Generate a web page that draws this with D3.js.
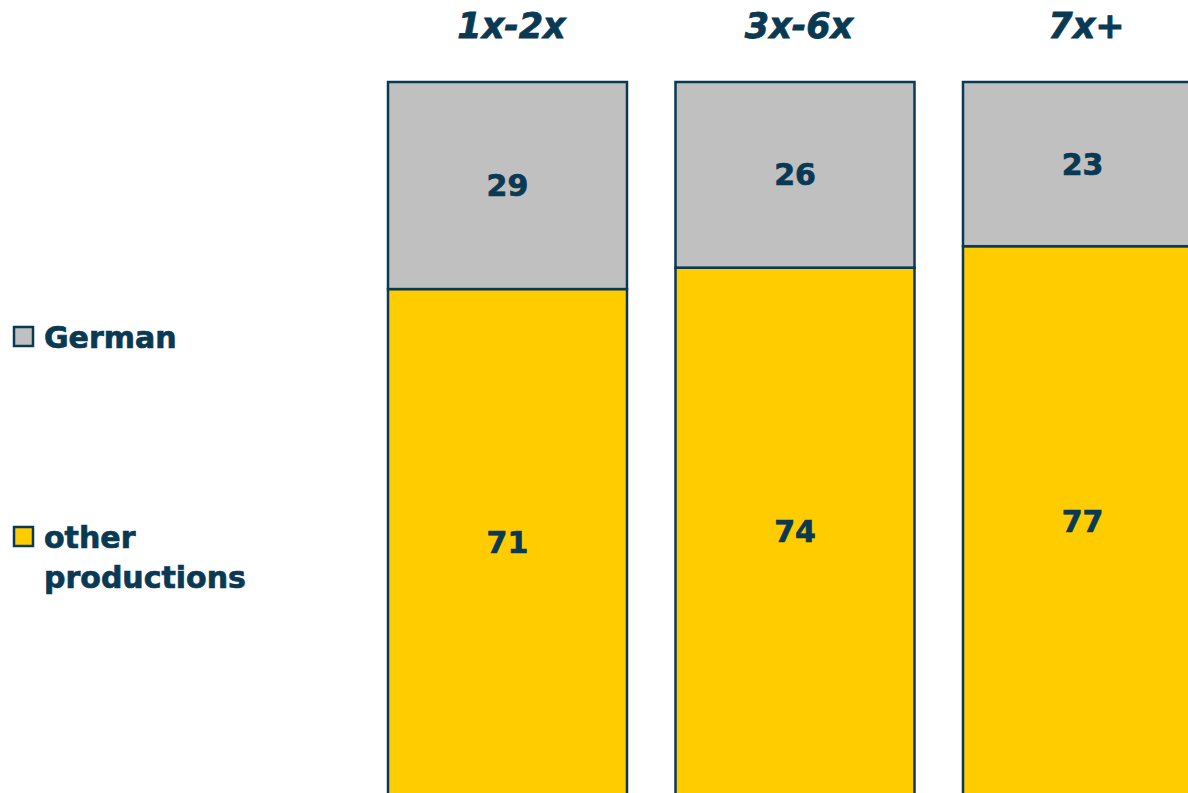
<!DOCTYPE html>
<html>
<head>
<meta charset="utf-8">
<script src="https://cdn.jsdelivr.net/npm/d3@7"></script>
<style>
  html, body { margin: 0; padding: 0; background: #fff; overflow: hidden; }
  svg { display: block; font-family: 'DejaVu Sans', Verdana, sans-serif; }
</style>
</head>
<body>
<svg id="chart" width="1188" height="793"></svg>
<script>
const categories = ['1x-2x', '3x-6x', '7x+'];
const seriesNames = ['other productions', 'German'];
const otherValues = [71, 74, 77];
const germanValues = [29, 26, 23];

const navy = '#0a3953';
const color = d3.scaleOrdinal()
  .domain(seriesNames)
  .range(['#ffcc00', '#c0c0c0']);

const svg = d3.select('svg#chart');

const x = d3
  .scaleBand()
  .domain(categories)
  .range([388, 1202])
  .paddingInner(0.1687)
  .paddingOuter(0);

const y = d3
  .scaleLinear()
  .domain([0, 100])
  .range([796, 82]);

const rows = categories.map((c, i) => ({
  cat: c,
  'other productions': otherValues[i],
  German: germanValues[i]
}));

const stacked = d3.stack().keys(seriesNames)(rows);

const layers = svg
  .append('g')
  .attr('class', 'bars')
  .selectAll('g')
  .data(stacked)
  .enter()
  .append('g')
  .style('fill', d => color(d.key));

layers
  .selectAll('rect')
  .data(d => d)
  .enter()
  .append('rect')
  .attr('x', d => x(d.data.cat))
  .attr('y', d => y(d[1]))
  .attr('width', x.bandwidth())
  .attr('height', d => y(d[0]) - y(d[1]))
  .style('stroke', navy)
  .style('stroke-width', 2.5);

// value labels
layers
  .selectAll('text')
  .data(d => d)
  .enter()
  .append('text')
  .attr('x', d => x(d.data.cat) + x.bandwidth() / 2)
  .attr('y', d => (y(d[0]) + y(d[1])) / 2)
  .attr('text-anchor', 'middle')
  .attr('dominant-baseline', 'central')
  .style('fill', navy)
  .style('stroke', navy)
  .style('stroke-width', 0.7)
  .style('font-weight', 'bold')
  .style('font-size', '30px')
  .text(d => d[1] - d[0]);

// category headers
svg
  .append('g')
  .selectAll('text')
  .data(categories)
  .enter()
  .append('text')
  .attr('x', d => x(d) + x.bandwidth() / 2 + 4)
  .attr('y', 38)
  .attr('text-anchor', 'middle')
  .style('fill', navy)
  .style('stroke', navy)
  .style('stroke-width', 0.8)
  .style('font-weight', 'bold')
  .style('font-style', 'italic')
  .style('font-size', '35px')
  .text(d => d);

// legend
const legend = [
  { name: 'German', lines: ['German'], y: 337 },
  { name: 'other productions', lines: ['other', 'productions'], y: 537 }
];

const lg = svg
  .append('g')
  .attr('class', 'legend')
  .selectAll('g')
  .data(legend)
  .enter()
  .append('g');

lg.append('rect')
  .attr('x', 14)
  .attr('y', d => d.y - 10)
  .attr('width', 19)
  .attr('height', 19)
  .style('fill', d => color(d.name))
  .style('stroke', navy)
  .style('stroke-width', 2.5);

lg.each(function(d) {
  const t = d3.select(this)
    .append('text')
    .attr('x', 44)
    .attr('y', d.y + 11)
    .style('fill', navy)
    .style('stroke', navy)
    .style('stroke-width', 0.7)
    .style('font-weight', 'bold')
    .style('font-size', '30px');
  d.lines.forEach((l, i) => {
    t.append('tspan')
      .attr('x', 44)
      .attr('dy', i === 0 ? 0 : 40)
      .text(l);
  });
});
</script>
</body>
</html>
